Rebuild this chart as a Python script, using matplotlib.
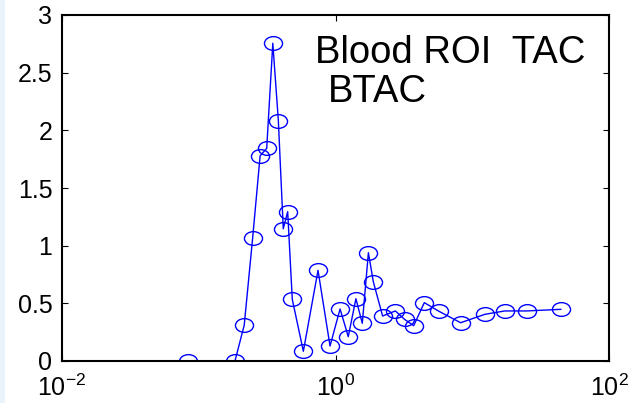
import matplotlib
matplotlib.use("Agg")
import matplotlib.pyplot as plt
import matplotlib.transforms as mtransforms
from matplotlib.path import Path
from matplotlib.patches import Rectangle
from matplotlib.ticker import NullLocator, FormatStrFormatter, LogFormatterMathtext

# blood time-activity curve samples (time, activity)
time_pts = [0.083, 0.184, 0.215, 0.248, 0.281, 0.314, 0.348, 0.382, 0.415, 0.447,
            0.483, 0.582, 0.745, 0.912, 1.08, 1.24, 1.41, 1.57, 1.74, 1.89,
            2.21, 2.74, 3.20, 3.73, 4.46, 5.71, 8.22, 12.4, 17.3, 25.0, 44.4]
activity = [0.0, 0.0, 0.31, 1.07, 1.778, 1.844, 2.755, 2.084, 1.147, 1.295,
            0.535, 0.084, 0.786, 0.13, 0.451, 0.211, 0.54, 0.327, 0.939, 0.688,
            0.39, 0.434, 0.361, 0.306, 0.506, 0.431, 0.332, 0.405, 0.434, 0.434, 0.448]
xticks = [1e-2, 1e0, 1e2]
yticks = [0, 0.5, 1, 1.5, 2, 2.5, 3]
label_lines = ["Blood ROI  TAC", "BTAC"]

plt.rcParams.update({
    "font.family": ["Liberation Sans", "DejaVu Sans"],
    "mathtext.fontset": "custom",
    "mathtext.rm": "Liberation Sans",
    "mathtext.it": "Liberation Sans",
    "mathtext.bf": "Liberation Sans",
})

fig = plt.figure(figsize=(6.28, 4.03), dpi=100)
fig.patches.append(Rectangle((0, 0), 5 / 628, 1, transform=fig.transFigure,
                             facecolor="#eaf3fc", edgecolor="none", zorder=0))
ax = fig.add_axes([62 / 628, 42 / 403, 547 / 628, 346 / 403])

# flattened circle marker
ellipse = Path.unit_circle().transformed(mtransforms.Affine2D().scale(1.0, 0.76))

ax.plot(time_pts, activity, color=(0, 0, 1), lw=1.0, marker=ellipse, markersize=13,
        markerfacecolor="none", markeredgecolor=(0, 0, 1), markeredgewidth=1.0)

ax.set_xscale("log")
ax.set_xlim(1e-2, 1e2)
ax.set_ylim(0, 3)
ax.set_xticks(xticks)
ax.xaxis.set_minor_locator(NullLocator())
ax.xaxis.set_major_formatter(LogFormatterMathtext(base=10))
ax.set_yticks(yticks)
ax.yaxis.set_major_formatter(FormatStrFormatter("%g"))

ax.tick_params(axis="both", which="major", direction="in", length=4, width=0.8,
               top=True, right=True, labelsize=18, color="black")
ax.tick_params(axis="y", pad=7)
ax.tick_params(axis="x", pad=10)
for sp in ax.spines.values():
    sp.set_linewidth(1.5)

ax.text(0.4625, 0.861, label_lines[0], transform=ax.transAxes, fontsize=27.5,
        ha="left", va="baseline")
ax.text(0.486, 0.749, label_lines[1], transform=ax.transAxes, fontsize=27.5,
        ha="left", va="baseline")

fig.savefig("out.png", dpi=100)
